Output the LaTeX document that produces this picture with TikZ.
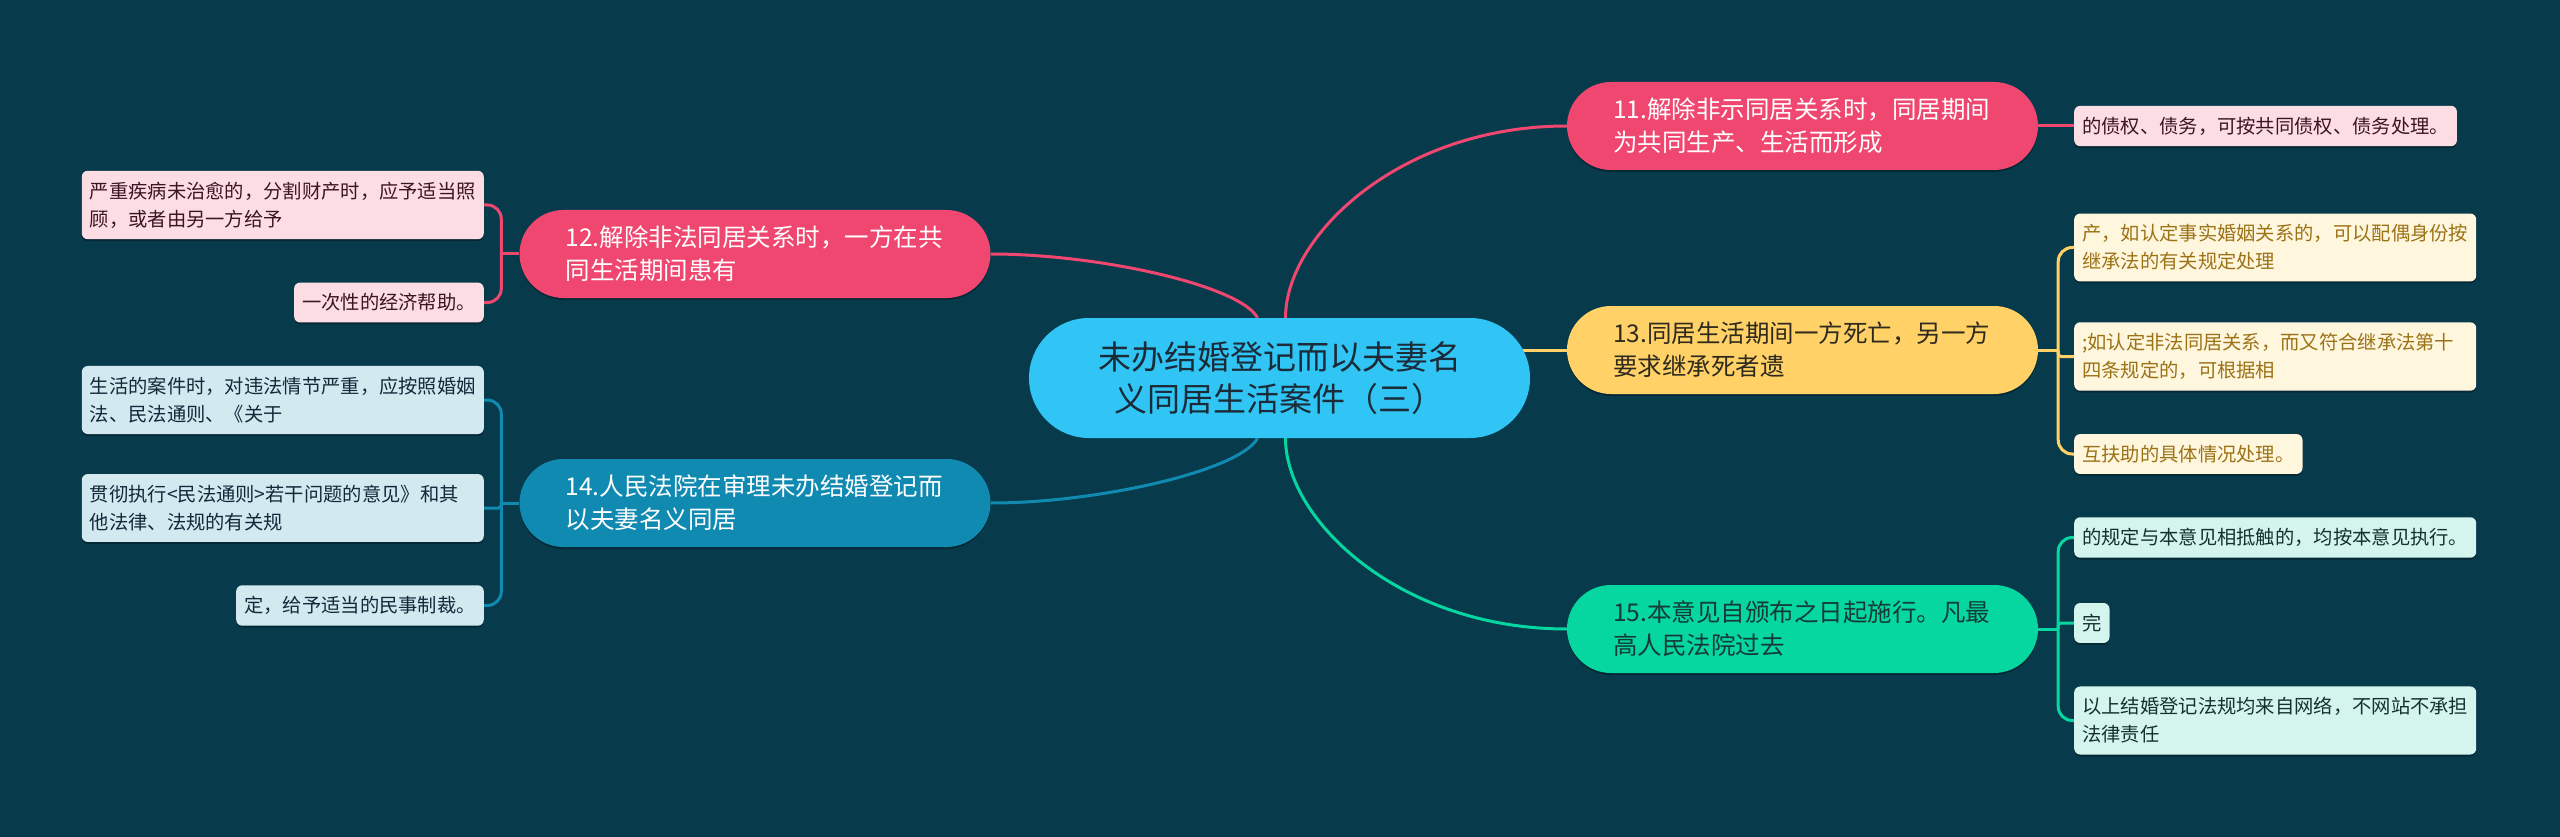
\documentclass[tikz,border=0pt]{standalone}
\usepackage{fontspec}
\setmainfont{Noto Sans CJK SC}
\usetikzlibrary{backgrounds,shadows}
\definecolor{bgc}{HTML}{073B4C}
\definecolor{cen}{HTML}{30C5F5}
\definecolor{cred}{HTML}{EF476F}
\definecolor{cyel}{HTML}{FFD166}
\definecolor{cgrn}{HTML}{06D6A0}
\definecolor{cblu}{HTML}{118AB2}
\definecolor{lpink}{HTML}{FDDDE4}
\definecolor{lyel}{HTML}{FFF6DE}
\definecolor{lgrn}{HTML}{D3F5EE}
\definecolor{lblu}{HTML}{D2E9F0}
\definecolor{tpink}{HTML}{3B1524}
\definecolor{tyel}{HTML}{9C7216}
\definecolor{tgrn}{HTML}{17302E}
\definecolor{tblu}{HTML}{13293A}
\definecolor{tdark}{HTML}{1C2B38}
\definecolor{tbr}{HTML}{2E2A1E}
\definecolor{tgb}{HTML}{163A36}
\tikzset{
  shad/.style={drop shadow={shadow xshift=0pt, shadow yshift=-2pt, opacity=0.3, fill=black}},
  central/.style={fill=cen, rounded corners=60pt, minimum width=501pt, minimum height=120pt,
    align=center, text=tdark, inner sep=0pt, font=\fontsize{33}{42}\selectfont},
  branch/.style={shad, rounded corners=44pt, minimum height=88pt, text width=379pt,
    inner xsep=46pt, inner ysep=0pt, align=left, font=\fontsize{24.5}{33}\selectfont},
  leaf/.style={shad, rounded corners=6pt, inner xsep=8pt, inner ysep=11pt, align=left,
    font=\fontsize{19.3}{28}\selectfont},
  leafw/.style={leaf, text width=386pt},
  conn/.style={line width=3pt},
  brk/.style={line width=3pt, rounded corners=14pt}
}
\begin{document}
\begin{tikzpicture}[x=1pt,y=-1pt]
\useasboundingbox (0,0) rectangle (2560,837);
\begin{scope}[on background layer]
\fill[bgc] (0,0) rectangle (2560,837);
\end{scope}

% central
\node[central] (c) at (1279.5,378) {未办结婚登记而以夫妻名\\义同居生活案件（三）};

% branches
\node[branch, fill=cred, text=white] (n11) at (1802.5,126) {11.解除非示同居关系时，同居期间\\为共同生产、生活而形成};
\node[branch, fill=cyel, text=tbr] (n13) at (1802.5,350) {13.同居生活期间一方死亡，另一方\\要求继承死者遗};
\node[branch, fill=cgrn, text=tgb] (n15) at (1802.5,629) {15.本意见自颁布之日起施行。凡最\\高人民法院过去};
\node[branch, fill=cred, text=white] (n12) at (755,254) {12.解除非法同居关系时，一方在共\\同生活期间患有};
\node[branch, fill=cblu, text=white] (n14) at (755,503) {14.人民法院在审理未办结婚登记而\\以夫妻名义同居};

% right leaves
\node[leaf, fill=lpink, text=tpink, anchor=west] (l11) at (2074,126) {的债权、债务，可按共同债权、债务处理。};
\node[leafw, fill=lyel, text=tyel, anchor=west] (l13a) at (2074,247.5) {产，如认定事实婚姻关系的，可以配偶身份按\\继承法的有关规定处理};
\node[leafw, fill=lyel, text=tyel, anchor=west] (l13b) at (2074,356.5) {;如认定非法同居关系，而又符合继承法第十\\四条规定的，可根据相};
\node[leaf, fill=lyel, text=tyel, anchor=west] (l13c) at (2074,454) {互扶助的具体情况处理。};
\node[leaf, fill=lgrn, text=tgrn, anchor=west] (l15a) at (2074,537.5) {的规定与本意见相抵触的，均按本意见执行。};
\node[leaf, fill=lgrn, text=tgrn, anchor=west] (l15b) at (2074,623) {完};
\node[leafw, fill=lgrn, text=tgrn, anchor=west] (l15c) at (2074,720.5) {以上结婚登记法规均来自网络，不网站不承担\\法律责任};

% left leaves
\node[leafw, fill=lpink, text=tpink, anchor=east] (l12a) at (484,205) {严重疾病未治愈的，分割财产时，应予适当照\\顾，或者由另一方给予};
\node[leaf, fill=lpink, text=tpink, anchor=east] (l12b) at (484,302.5) {一次性的经济帮助。};
\node[leafw, fill=lblu, text=tblu, anchor=east] (l14a) at (484,400) {生活的案件时，对违法情节严重，应按照婚姻\\法、民法通则、《关于};
\node[leafw, fill=lblu, text=tblu, anchor=east] (l14b) at (484,508) {贯彻执行<民法通则>若干问题的意见》和其\\他法律、法规的有关规};
\node[leaf, fill=lblu, text=tblu, anchor=east] (l14c) at (484,605.5) {定，给予适当的民事制裁。};

\coordinate (b13) at ([xshift=20pt]n13.east);
\coordinate (b15) at ([xshift=20pt]n15.east);
\coordinate (b12) at ([xshift=-18pt]n12.west);
\coordinate (b14) at ([xshift=-18pt]n14.west);

\begin{scope}[on background layer]
% main connectors
\draw[conn, cred] ([xshift=6pt]c.north) .. controls +(0,-82) and +(-167,0) .. (n11.west);
\draw[conn, cyel] (c.center |- n13.west) -- (n13.west);
\draw[conn, cgrn] ([xshift=6pt]c.south) .. controls +(0,82) and +(-167,0) .. (n15.west);
\draw[conn, cred] ([xshift=-22pt]c.north) .. controls +(-17,-32) and +(109,0) .. (n12.east);
\draw[conn, cblu] ([xshift=-22pt]c.south) .. controls +(-17,32) and +(109,0) .. (n14.east);
% leaf brackets
\draw[conn, cred] (n11.east) -- (l11.west);
\draw[conn, cyel] (n13.east) -- (b13);
\draw[brk, cyel] (b13) |- (l13a.west);
\draw[brk, cyel, rounded corners=3pt] (b13) |- (l13b.west);
\draw[brk, cyel] (b13) |- (l13c.west);
\draw[conn, cgrn] (n15.east) -- (b15);
\draw[brk, cgrn] (b15) |- (l15a.west);
\draw[brk, cgrn, rounded corners=3pt] (b15) |- (l15b.west);
\draw[brk, cgrn] (b15) |- (l15c.west);
\draw[conn, cred] (n12.west) -- (b12);
\draw[brk, cred] (b12) |- (l12a.east);
\draw[brk, cred] (b12) |- (l12b.east);
\draw[conn, cblu] (n14.west) -- (b14);
\draw[brk, cblu] (b14) |- (l14a.east);
\draw[brk, cblu, rounded corners=3pt] (b14) |- (l14b.east);
\draw[brk, cblu] (b14) |- (l14c.east);
\end{scope}
\end{tikzpicture}
\end{document}
